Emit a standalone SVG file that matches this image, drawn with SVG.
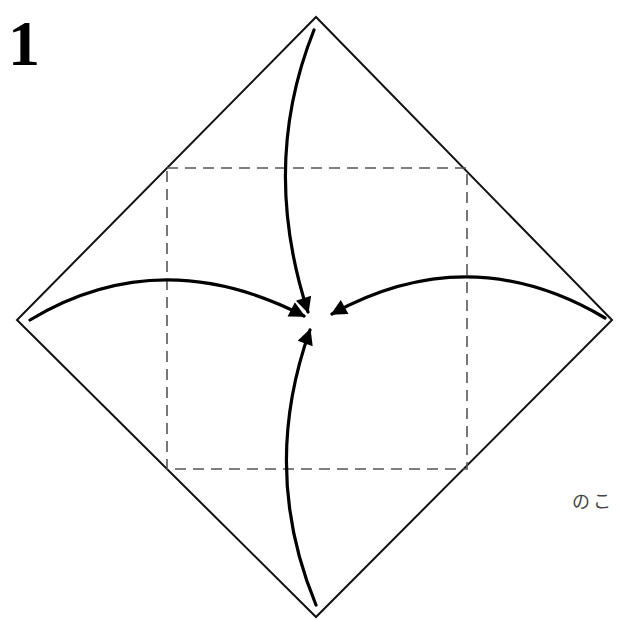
<svg xmlns="http://www.w3.org/2000/svg" width="618" height="620" viewBox="0 0 618 620">
<style>
.edge{fill:none;stroke:#111;stroke-width:2}
.arrow{fill:none;stroke:#000;stroke-width:3.2;stroke-linecap:round}
.dash{fill:none;stroke:#555;stroke-width:1.6;stroke-dasharray:11 7}
</style>
<defs>
<marker id="ah" viewBox="0 0 10 10" refX="9" refY="5" markerWidth="7" markerHeight="5" orient="auto" markerUnits="strokeWidth">
<path d="M0,0 L10,5 L0,10 Z" fill="#000"/>
</marker>
</defs>
<rect width="618" height="620" fill="#fff"/>
<g id="paper">
<polygon class="edge" points="316,17 612,320 316,617 17,320"/>
</g>
<g id="fold-square">
<rect class="dash" x="167" y="168" width="300" height="301"/>
</g>
<g id="label-1">
<text x="8" y="65" font-family="Liberation Serif, serif" font-weight="bold" font-size="64" fill="#000">1</text>
</g>
<g id="label-noko">
<text x="572" y="508" font-family="Noto Sans CJK JP, sans-serif" font-size="18" letter-spacing="3" fill="#444">のこ</text>
</g>
<g id="connectors">
<path class="arrow" marker-end="url(#ah)" d="M314,30 Q260,165 308,312"/>
<path class="arrow" marker-end="url(#ah)" d="M30,320 Q160,242 304,316"/>
<path class="arrow" marker-end="url(#ah)" d="M605,318 Q470,238 332,314"/>
<path class="arrow" marker-end="url(#ah)" d="M316,605 Q260,470 310,330"/>
</g>
</svg>
